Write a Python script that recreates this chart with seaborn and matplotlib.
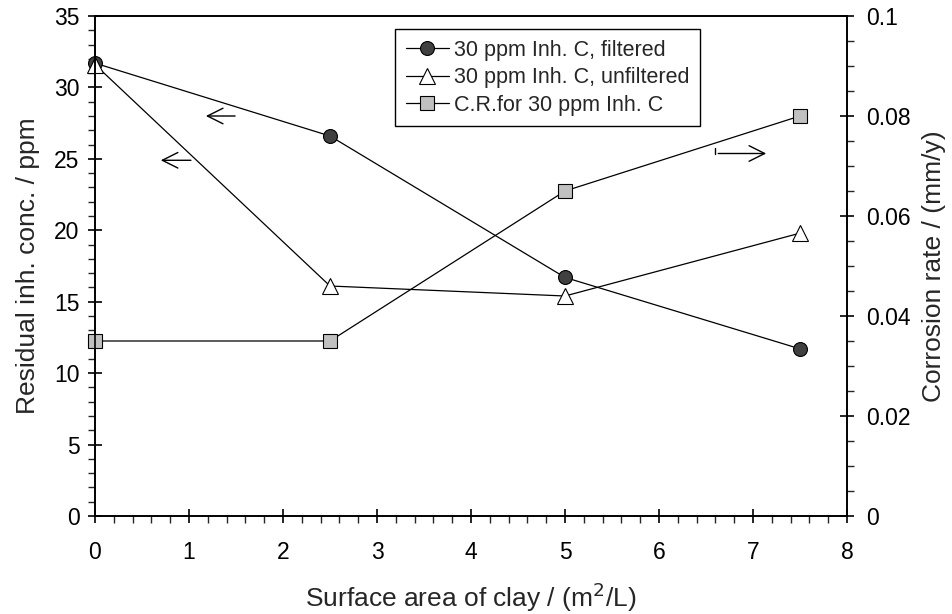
import matplotlib
matplotlib.use("Agg")
import matplotlib.pyplot as plt
from matplotlib.ticker import MultipleLocator, FuncFormatter
import seaborn as sns
import pandas as pd

sns.set_theme(style="ticks")
plt.rcParams['font.family'] = ['Liberation Sans', 'DejaVu Sans']

area = [0, 2.5, 5, 7.5]
filtered = [31.7, 26.6, 16.7, 11.7]
unfiltered = [31.6, 16.1, 15.4, 19.8]
corrosion = [0.035, 0.035, 0.065, 0.080]

labels = ["30 ppm Inh. C, filtered", "30 ppm Inh. C, unfiltered", "C.R.for 30 ppm Inh. C"]

df = pd.DataFrame({"area": area, "filtered": filtered,
                   "unfiltered": unfiltered, "corrosion": corrosion})

fig = plt.figure(figsize=(9.53, 6.14), dpi=100)
ax = fig.add_axes([95/953, 1-516/614, (847-95)/953, (516-16)/614])
ax2 = ax.twinx()

lw = 0.9
ms = 10
sns.lineplot(data=df, x="area", y="filtered", ax=ax, color="black", linewidth=lw,
             marker="o", markersize=ms, markerfacecolor="#404040",
             markeredgecolor="black", markeredgewidth=0.8, label=labels[0], legend=False)
sns.lineplot(data=df, x="area", y="unfiltered", ax=ax, color="black", linewidth=lw,
             marker="^", markersize=ms + 1, markerfacecolor="white",
             markeredgecolor="black", markeredgewidth=0.8, label=labels[1], legend=False)
sns.lineplot(data=df, x="area", y="corrosion", ax=ax2, color="black", linewidth=lw,
             marker="s", markersize=ms - 0.5, markerfacecolor="#c0c0c0",
             markeredgecolor="black", markeredgewidth=0.8, label=labels[2], legend=False)

for a in (ax, ax2):
    for sp in a.spines.values():
        sp.set_linewidth(1.2)
        sp.set_color("black")
for line in ax.lines + ax2.lines:
    line.set_clip_on(False)

ax.set_xlim(0, 8)
ax.set_ylim(0, 35)
ax2.set_ylim(0, 0.1)
ax.xaxis.set_major_locator(MultipleLocator(1))
ax.xaxis.set_minor_locator(MultipleLocator(0.2))
ax.yaxis.set_major_locator(MultipleLocator(5))
ax.yaxis.set_minor_locator(MultipleLocator(1))
ax2.yaxis.set_major_locator(MultipleLocator(0.02))
ax2.yaxis.set_minor_locator(MultipleLocator(0.005))
ax2.yaxis.set_major_formatter(FuncFormatter(lambda v, p: "0" if abs(v) < 1e-9 else f"{v:g}"))

fs_tick = 16.5
ax.tick_params(axis="both", which="major", direction="inout", length=10, width=1.2,
               labelsize=fs_tick, colors="black", pad=6)
ax.tick_params(axis="both", which="minor", direction="out", length=5, width=1.0)
ax.tick_params(axis="x", which="major", pad=13)
ax2.tick_params(axis="y", which="major", direction="inout", length=10, width=1.2,
                labelsize=fs_tick, colors="black", pad=9)
ax2.tick_params(axis="y", which="minor", direction="out", length=5, width=1.0)

fs_lab = 19
ax.set_xlabel("Surface area of clay / (m$^2$/L)", fontsize=fs_lab, labelpad=12)
ax.set_ylabel("Residual inh. conc. / ppm", fontsize=fs_lab, labelpad=10)
ax2.set_ylabel("Corrosion rate / (mm/y)", fontsize=fs_lab, labelpad=8)

arrow = dict(arrowstyle="->", color="black", lw=1.0, mutation_scale=28)
ax.annotate("", xy=(1.15, 28.0), xytext=(1.52, 28.0), arrowprops=arrow)
ax.annotate("", xy=(0.67, 24.9), xytext=(1.05, 24.9), arrowprops=arrow)
ax2.annotate("", xy=(7.17, 0.0725), xytext=(6.6, 0.0725), arrowprops=arrow)
ax2.plot([6.6, 6.6], [0.0725, 0.0737], color="black", lw=1.0)

handles = ax.get_lines()[:2] + ax2.get_lines()[:1]
leg = ax.legend(handles, labels, loc="upper left", bbox_to_anchor=(395/953, 1-29/614),
                bbox_transform=fig.transFigure, fontsize=15.5, frameon=True,
                fancybox=False, edgecolor="black", framealpha=1,
                handlelength=2.0, handletextpad=0.25, borderpad=0.5,
                labelspacing=0.3, borderaxespad=0)
leg.get_frame().set_linewidth(1.0)

fig.savefig("out.png", dpi=100)
